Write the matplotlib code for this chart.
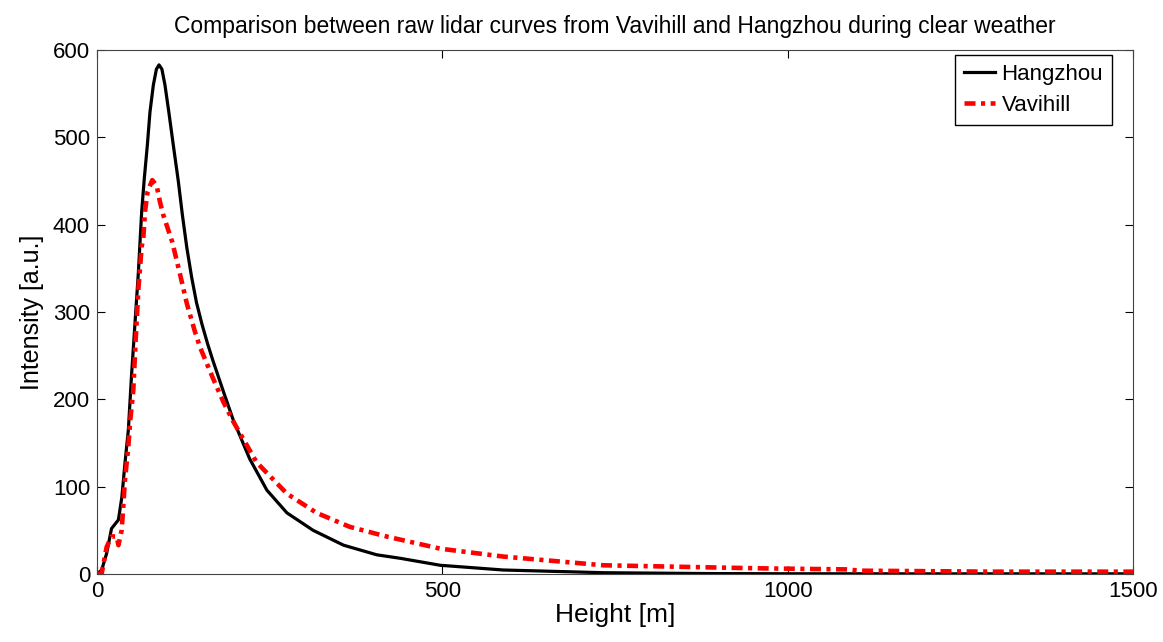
import numpy as np
import matplotlib.pyplot as plt

plt.rcParams['font.family'] = ['Liberation Sans', 'DejaVu Sans']

# raw lidar curves, height [m] vs intensity [a.u.]
h_hz = [0, 6.8, 14, 21, 31, 36, 40.5, 45.4, 50.2, 55, 59.8, 64.7, 68.5, 72.9,
        76.7, 81.6, 86, 89.8, 94, 98.4, 104, 110.5, 117.7, 123.5, 130, 137, 144,
        152, 160, 168, 183, 197, 221, 246, 275, 313, 357, 405, 439, 497, 588,
        733, 887, 1000, 1200, 1500]
i_hz = [0, 4.6, 23.7, 52, 62, 88, 127, 165, 230, 287, 344, 415, 453, 491,
        529, 560, 578, 583, 578, 560, 529, 491, 450, 412, 374, 340, 311,
        286, 264, 244, 209, 177, 132, 96, 70, 50, 33, 22, 18, 10, 4.6,
        1.5, 0.5, 0.3, 0.2, 0.2]

h_vh = [0, 6.8, 14, 21, 28.5, 31, 35.7, 38, 40.5, 45.4, 47.8, 52.6, 56, 59.8,
        64.7, 67, 69.5, 73.3, 80, 86.3, 91.2, 96, 104, 109, 120, 130, 142, 149,
        168, 183, 197, 231, 275, 318, 366, 419, 497, 588, 733, 887, 960, 1085,
        1105, 1297, 1500]
i_vh = [0, 0.8, 31, 43, 43, 33, 50, 77, 108, 146, 173, 211, 268, 325,
        375, 384, 415, 438, 451, 445, 426, 411, 392, 380, 344, 310, 277, 260,
        224, 197, 175, 128, 92, 70, 54, 43, 29, 20, 10, 7.6, 6.5, 5.3,
        3.8, 2.7, 2.7]

fig = plt.figure(figsize=(11.63, 6.42), dpi=100)
ax = fig.add_axes([0.0834, 0.1059, 0.8908, 0.8162])

ax.plot(h_hz, i_hz, color='black', lw=2.3, label='Hangzhou')
ax.plot(h_vh, i_vh, color='red', lw=3.3, ls=(0, (2.4, 1.2, 0.9, 1.2)),
        label='Vavihill')

ax.set_xlim(0, 1500)
ax.set_ylim(0, 600)
ax.set_xticks([0, 500, 1000, 1500])
ax.set_yticks(range(0, 601, 100))
ax.tick_params(direction='in', top=True, right=True, labelsize=16, length=6,
               pad=5)
for s in ax.spines.values():
    s.set_color('#444444')

ax.set_xlabel('Height [m]', fontsize=19, labelpad=1)
ax.set_ylabel('Intensity [a.u.]', fontsize=18, labelpad=6)
ax.set_title('Comparison between raw lidar curves from Vavihill and Hangzhou during clear weather',
             fontsize=16.5, pad=12)

leg = ax.legend(loc='upper right', bbox_to_anchor=(0.9797, 0.9905), borderaxespad=0,
                fontsize=16, fancybox=False, framealpha=1, edgecolor='black',
                handlelength=1.4, handletextpad=0.3, labelspacing=0.45,
                borderpad=0.4)
leg.get_frame().set_linewidth(1.0)

fig.savefig('out.png', dpi=100)
